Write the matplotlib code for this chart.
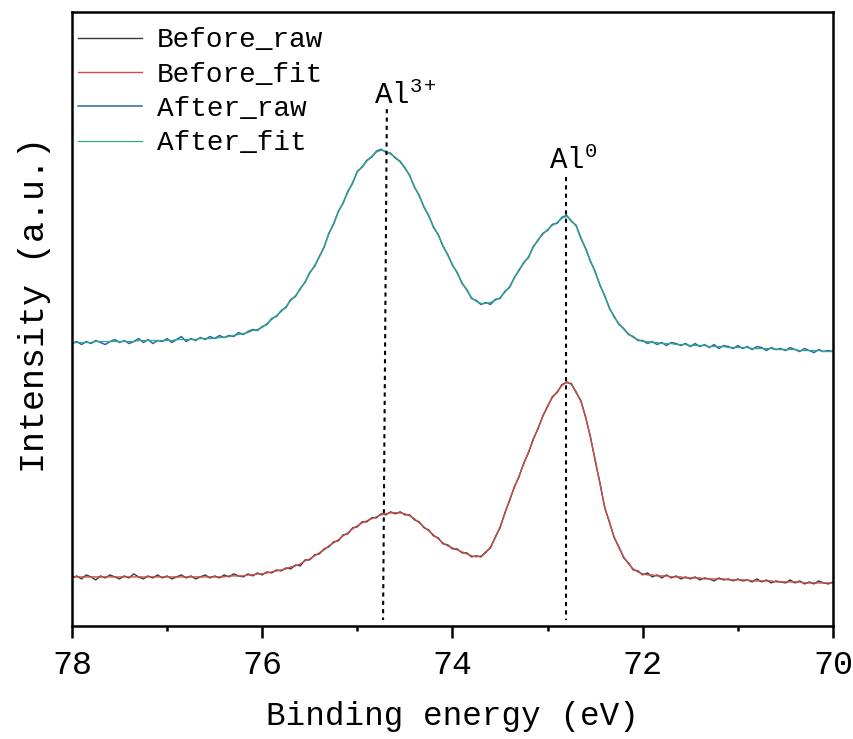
import numpy as np
import matplotlib
matplotlib.use("Agg")
import matplotlib.pyplot as plt

plt.rcParams['font.family'] = ['Liberation Mono', 'DejaVu Sans Mono']
plt.rcParams['mathtext.fontset'] = 'custom'
plt.rcParams['mathtext.rm'] = 'Liberation Mono'
plt.rcParams['mathtext.it'] = 'Liberation Mono'

# binding energy grid, 78 -> 70 eV in 0.05 eV steps
energy = np.linspace(78, 70, 161)

after_raw = [
    282, 284, 281, 284, 282, 285, 283, 281, 284, 286,
    283, 285, 282, 284, 287, 283, 286, 282, 285, 284,
    287, 283, 286, 289, 284, 287, 285, 288, 286, 289,
    287, 290, 288, 290, 289, 293, 291, 294, 296, 295,
    299, 301, 307, 309, 315, 318, 326, 329, 337, 343,
    353, 359, 369, 378, 392, 401, 414, 422, 434, 442,
    454, 458, 465, 468, 474, 476, 473, 472, 467, 464,
    457, 450, 438, 430, 418, 410, 398, 391, 379, 371,
    360, 353, 342, 336, 327, 325, 321, 323, 321, 326,
    327, 334, 338, 348, 355, 363, 368, 379, 385, 392,
    395, 401, 402, 408, 410, 404, 400, 387, 377, 364,
    354, 340, 330, 317, 309, 301, 297, 291, 289, 285,
    285, 282, 284, 281, 283, 280, 283, 282, 280, 282,
    279, 282, 279, 281, 278, 281, 277, 280, 279, 277,
    280, 277, 279, 276, 279, 278, 275, 278, 276, 277,
    275, 278, 276, 274, 277, 275, 273, 276, 274, 275,
    274]

after_fit = [
    283, 283, 283, 283, 283, 284, 284, 284, 284, 284,
    284, 284, 284, 284, 285, 285, 285, 285, 285, 285,
    285, 285, 286, 286, 286, 286, 286, 287, 287, 287,
    287, 288, 288, 289, 290, 291, 292, 293, 295, 296,
    298, 302, 306, 310, 314, 319, 325, 330, 336, 344,
    352, 360, 368, 379, 391, 402, 413, 423, 433, 443,
    453, 459, 464, 469, 473, 475, 474, 471, 468, 463,
    458, 449, 439, 429, 419, 409, 399, 390, 380, 370,
    361, 352, 343, 335, 328, 324, 322, 322, 323, 325,
    328, 333, 339, 347, 356, 362, 369, 378, 386, 391,
    396, 400, 403, 407, 409, 405, 399, 388, 376, 365,
    353, 341, 329, 318, 308, 302, 296, 292, 288, 286,
    284, 284, 283, 283, 282, 282, 282, 281, 281, 281,
    280, 280, 280, 280, 279, 279, 279, 279, 278, 278,
    278, 278, 278, 277, 277, 277, 277, 277, 276, 276,
    276, 276, 276, 275, 275, 275, 275, 275, 274, 274,
    274]

before_raw = [
    48, 50, 47, 51, 49, 46, 50, 48, 51, 49,
    47, 50, 48, 52, 49, 47, 50, 48, 51, 48,
    50, 47, 49, 51, 48, 50, 47, 49, 51, 48,
    50, 48, 51, 49, 52, 50, 49, 52, 50, 53,
    51, 54, 53, 56, 55, 58, 57, 61, 60, 66,
    66, 71, 72, 77, 79, 84, 85, 91, 92, 98,
    99, 104, 104, 108, 108, 112, 111, 114, 112, 114,
    111, 111, 106, 104, 98, 96, 90, 88, 82, 81,
    77, 77, 73, 73, 69, 70, 69, 74, 78, 89,
    98, 113, 125, 139, 149, 163, 173, 187, 197, 210,
    219, 229, 233, 241, 243, 242, 233, 225, 208, 189,
    165, 143, 118, 104, 88, 79, 68, 63, 56, 55,
    51, 53, 49, 51, 48, 51, 48, 50, 47, 49,
    47, 49, 46, 48, 47, 45, 48, 46, 47, 45,
    47, 45, 46, 44, 47, 44, 46, 43, 45, 44,
    43, 46, 43, 45, 42, 44, 42, 45, 43, 42,
    44]

before_fit = [
    49, 49, 49, 49, 49, 49, 49, 49, 49, 49,
    49, 49, 49, 49, 49, 49, 49, 49, 49, 49,
    49, 49, 49, 49, 49, 49, 49, 49, 49, 49,
    49, 49, 49, 50, 50, 50, 50, 51, 51, 52,
    52, 53, 54, 55, 56, 57, 59, 60, 62, 65,
    67, 70, 73, 76, 80, 83, 86, 90, 93, 97,
    100, 103, 105, 107, 109, 111, 112, 113, 113, 113,
    112, 110, 107, 103, 99, 95, 91, 87, 83, 80,
    78, 76, 74, 72, 70, 69, 70, 73, 79, 88,
    99, 112, 126, 138, 150, 162, 174, 186, 198, 209,
    220, 228, 234, 240, 244, 241, 234, 224, 209, 188,
    166, 142, 119, 103, 89, 78, 69, 62, 57, 54,
    52, 51, 51, 50, 50, 50, 49, 49, 49, 48,
    48, 48, 48, 47, 47, 47, 47, 47, 46, 46,
    46, 46, 46, 45, 45, 45, 45, 45, 44, 44,
    44, 44, 44, 44, 43, 43, 43, 43, 43, 43,
    43]

labels = ['Before_raw', 'Before_fit', 'After_raw', 'After_fit']
colors = ['#3a3a3a', '#cc4c4c', '#2468ad', '#37a487']

# peak marker lines (energy top/bottom, intensity top/bottom)
al3_e = [74.69, 74.73]
al3_i = [516, 6]
al0_e = [72.807, 72.807]
al0_i = [448, 6]

fig = plt.figure(figsize=(8.54, 7.39), dpi=100)
ax = fig.add_axes([0.0843, 0.1529, 0.8911, 0.8309])

ax.plot(energy, before_raw, color=colors[0], lw=1.0, label=labels[0])
ax.plot(energy, before_fit, color=colors[1], lw=1.0, label=labels[1])
ax.plot(energy, after_raw, color=colors[2], lw=1.1, label=labels[2])
ax.plot(energy, after_fit, color=colors[3], lw=0.9, label=labels[3])

ax.plot(al3_e, al3_i, color='black', lw=1.5, ls=(0, (2, 2)))
ax.plot(al0_e, al0_i, color='black', lw=1.5, ls=(0, (2, 2)))

ax.text(74.82, 521, 'Al$^{3+}$', fontsize=21, va='baseline', ha='left')
ax.text(72.985, 456, 'Al$^{0}$', fontsize=21, va='baseline', ha='left')

ax.set_xlim(78, 70)
ax.set_ylim(0, 613)
ax.set_xticks([78, 76, 74, 72, 70])
ax.set_xticks([77, 75, 73, 71], minor=True)
ax.set_yticks([])
ax.tick_params(axis='x', which='major', direction='out', length=8.6, width=1.8,
               labelsize=24, pad=9)
ax.tick_params(axis='x', which='minor', direction='out', length=3.8, width=1.8)
for s in ax.spines.values():
    s.set_linewidth(1.8)

ax.set_xlabel('Binding energy (eV)', fontsize=23.5, labelpad=14)
ax.set_ylabel('Intensity (a.u.)', fontsize=25.2)
ax.yaxis.set_label_coords(-0.027, 0.523)

leg = ax.legend(loc='upper left', bbox_to_anchor=(0.008, 0.975), frameon=False,
                fontsize=20, handlelength=2.3, handletextpad=0.55,
                labelspacing=0.3, borderpad=0, borderaxespad=0)

fig.savefig('out.png', dpi=100)
